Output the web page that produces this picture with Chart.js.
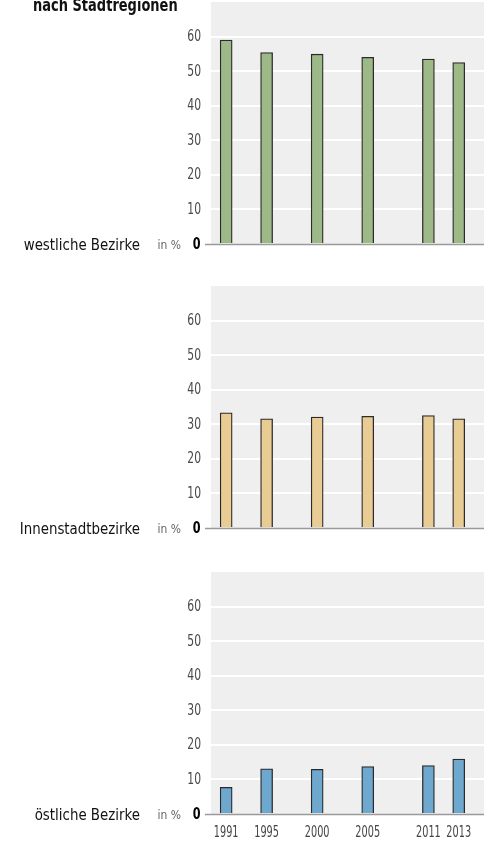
<!DOCTYPE html>
<html lang="de">
<head>
<meta charset="utf-8">
<title>nach Stadtregionen</title>
<script src="https://cdn.jsdelivr.net/npm/chart.js@4.4.1/dist/chart.umd.min.js"></script>
<style>
  html, body { margin: 0; padding: 0; background: #ffffff; }
  #wrap { position: relative; width: 491px; height: 843px; overflow: hidden; }
  .panel { position: absolute; left: 0; width: 491px; }
</style>
</head>
<body>
<div id="wrap">
  <div class="panel" style="top:0px;height:270px"><canvas id="c0"></canvas></div>
  <div class="panel" style="top:284px;height:270px"><canvas id="c1"></canvas></div>
  <div class="panel" style="top:570px;height:273px"><canvas id="c2"></canvas></div>
</div>
<script>
// Anteil der Bevölkerung nach Stadtregionen, in %
const title = 'nach Stadtregionen';
const years = ['1991', '1995', '2000', '2005', '2011', '2013'];
const westlicheBezirke  = [59.0, 55.4, 54.9, 54.0, 53.5, 52.5];
const innenstadtbezirke = [33.3, 31.6, 32.1, 32.3, 32.5, 31.6];
const oestlicheBezirke  = [7.7, 13.1, 12.9, 13.7, 14.0, 15.9];
const regionLabels = ['westliche Bezirke', 'Innenstadtbezirke', 'östliche Bezirke'];
const yTicks = [0, 10, 20, 30, 40, 50, 60];
const unitLabel = 'in %';

const FONT = '"DejaVu Sans Condensed", "DejaVu Sans", sans-serif';
const PANEL_BG = '#efefef';

// Column layout of the year axis: steps between neighbouring columns,
// plus empty columns before the first and after the last year.
const COLUMN_STEPS = [4, 5, 5, 6, 3];
const LEAD_SLOTS = 1, TRAIL_SLOTS = 2;
function buildSlots() {
  const out = [];
  for (let i = 0; i < LEAD_SLOTS; i++) out.push('');
  years.forEach((yr, i) => {
    out.push(yr);
    if (i < years.length - 1) for (let k = 1; k < COLUMN_STEPS[i]; k++) out.push('');
  });
  for (let i = 0; i < TRAIL_SLOTS; i++) out.push('');
  return out;
}
const slotLabels = buildSlots();

// text drawn with a horizontal squeeze to get a condensed look
function squeezedText(ctx, text, x, y, font, color, align, sx, baseline) {
  ctx.save();
  ctx.font = font;
  ctx.fillStyle = color;
  ctx.textAlign = align;
  ctx.textBaseline = baseline || 'middle';
  ctx.translate(x, y);
  ctx.scale(sx, 1);
  ctx.fillText(text, 0, 0);
  ctx.restore();
}

function panelPlugin(regionLabel, opts) {
  return {
    id: 'panelDecor',
    beforeDraw(chart) {
      const { ctx, chartArea: a } = chart;
      ctx.save();
      ctx.fillStyle = PANEL_BG;
      ctx.fillRect(a.left, a.top, a.right - a.left, a.bottom - a.top);
      ctx.restore();
    },
    afterDatasetsDraw(chart) {
      const { ctx, chartArea: a, scales } = chart;
      const y0 = Math.round(scales.y.getPixelForValue(0)) + 0.5;
      ctx.save();
      ctx.strokeStyle = '#9a9a9a';
      ctx.lineWidth = 1.5;
      ctx.beginPath();
      ctx.moveTo(a.left - 6, y0);
      ctx.lineTo(a.right, y0);
      ctx.stroke();
      ctx.restore();
    },
    afterDraw(chart) {
      const { ctx, scales, chartArea: a } = chart;
      const ys = scales.y, xs = scales.x;
      const y0 = ys.getPixelForValue(0);

      // value axis labels
      ys.ticks.forEach(t => {
        const py = ys.getPixelForValue(t.value);
        if (t.value === 0) {
          squeezedText(ctx, '0', 200.5, py + 0.5, 'bold 16px ' + FONT, '#000000', 'right', 0.78);
        } else {
          squeezedText(ctx, String(t.value), 201, py + 0.5, '15px ' + FONT, '#4a4a4a', 'right', 0.8);
        }
      });

      // unit and region name
      squeezedText(ctx, unitLabel, 181, y0 + 2, '13px ' + FONT, '#666666', 'right', 0.92);
      squeezedText(ctx, regionLabel, 140, y0 + 1.5, '16px ' + FONT, '#111111', 'right', 0.93);

      // year labels under the last panel
      if (opts.showYears) {
        years.forEach(yr => {
          const px = xs.getPixelForValue(yr);
          squeezedText(ctx, yr, px, a.bottom + 19.5, '15px ' + FONT, '#444444', 'center', 0.72);
        });
      }

      if (opts.withTitle) {
        squeezedText(ctx, title, 33, 10.5, 'bold 17px ' + FONT, '#111111', 'left', 0.85, 'alphabetic');
      }
    }
  };
}

function makePanel(canvasId, values, fill, regionLabel, opts) {
  return new Chart(document.getElementById(canvasId), {
    type: 'bar',
    data: {
      labels: slotLabels,
      datasets: [{
        data: years.map((yr, i) => ({ x: yr, y: values[i] })),
        backgroundColor: fill,
        borderColor: '#2b2b2b',
        borderWidth: 1.3,
        barThickness: 12
      }]
    },
    options: {
      responsive: true,
      maintainAspectRatio: false,
      animation: false,
      events: [],
      layout: { padding: { left: 0, right: 7, top: 2, bottom: opts.padBottom } },
      plugins: { legend: { display: false }, tooltip: { enabled: false } },
      scales: {
        x: {
          type: 'category',
          display: false,
          offset: true
        },
        y: {
          min: 0,
          max: 70,
          afterBuildTicks: (scale) => { scale.ticks = yTicks.map(v => ({ value: v })); },
          afterFit: (scale) => {
            scale.width = 211;
            scale.paddingTop = 0; scale.paddingBottom = 0;
          },
          border: { display: false },
          grid: {
            drawTicks: false,
            lineWidth: 2,
            color: (ctx) => (ctx.tick && ctx.tick.value === 0) ? 'rgba(0,0,0,0)' : '#ffffff'
          },
          ticks: { display: false }
        }
      }
    },
    plugins: [panelPlugin(regionLabel, opts)]
  });
}

makePanel('c0', westlicheBezirke, '#9db987', regionLabels[0], { padBottom: 26, withTitle: true, showYears: false });
makePanel('c1', innenstadtbezirke, '#e8cc94', regionLabels[1], { padBottom: 26, withTitle: false, showYears: false });
makePanel('c2', oestlicheBezirke, '#6fa8cf', regionLabels[2], { padBottom: 29, withTitle: false, showYears: true });
</script>
</body>
</html>
